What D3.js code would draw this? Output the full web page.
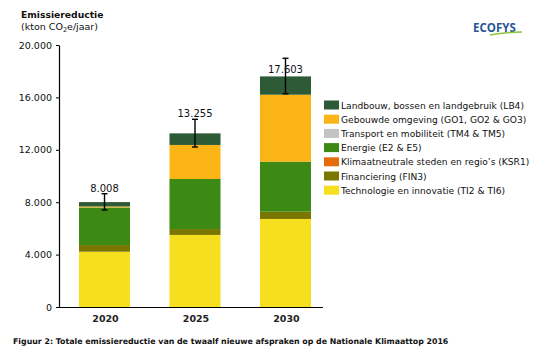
<!DOCTYPE html>
<html><head><meta charset="utf-8">
<script src="https://cdn.jsdelivr.net/npm/d3@7"></script>
<style>
html,body{margin:0;padding:0;background:#fff;}
svg{display:block;font-family:"DejaVu Sans",Verdana,sans-serif;}
</style></head>
<body><svg id="c" width="554" height="357"></svg>
<script>
// ---- data ----
const years = ["2020", "2025", "2030"];
const seriesNames = [
  "Technologie en innovatie (TI2 & TI6)",
  "Financiering (FIN3)",
  "Klimaatneutrale steden en regio\u2019s (KSR1)",
  "Energie (E2 & E5)",
  "Transport en mobiliteit (TM4 & TM5)",
  "Gebouwde omgeving (GO1, GO2 & GO3)",
  "Landbouw, bossen en landgebruik (LB4)"
];
const technologie = [4220, 5500, 6720];
const financiering = [510, 450, 555];
const klimaatneutraal = [0, 0, 0];
const energie = [2865, 3820, 3820];
const transport = [0, 0, 0];
const gebouwd = [80, 2600, 5110];
const landbouw = [333, 885, 1398];
const totals = [8008, 13255, 17603];
const errLow = [7405, 12214, 16282];
const errHigh = [8649, 14328, 18985];
const yTicks = [0, 4000, 8000, 12000, 16000, 20000];
const colors = ["#f5df1f", "#7a7700", "#e46c0a", "#3c8a14", "#c3c3c3", "#fbb416", "#2d5b37"];

const seriesValues = [technologie, financiering, klimaatneutraal, energie, transport, gebouwd, landbouw];
const rows = years.map((y, i) => {
  const r = {year: y};
  seriesNames.forEach((n, k) => r[n] = seriesValues[k][i]);
  return r;
});

const svg = d3.select("#c");
const x = d3.scaleBand().domain(years).range([59, 331]).paddingInner(0.436).paddingOuter(0.221);
const y = d3.scaleLinear().domain([0, 20000]).range([307, 45]);
const fmt = d3.formatLocale({decimal: ",", thousands: ".", grouping: [3], currency: ["", ""]}).format(",d");

// bars
const stack = d3.stack().keys(seriesNames)(rows);
svg.append("g").selectAll("g").data(stack).join("g")
  .attr("fill", (d, i) => colors[i])
  .selectAll("rect").data(d => d).join("rect")
  .attr("x", d => x(d.data.year))
  .attr("width", x.bandwidth())
  .attr("y", d => y(d[1]))
  .attr("height", d => y(d[0]) - y(d[1]));

// y axis
const yAxis = svg.append("g").attr("transform", "translate(59,0)")
  .call(d3.axisLeft(y).tickValues(yTicks).tickFormat(fmt).tickSize(3).tickSizeOuter(0).tickPadding(4));
yAxis.select(".domain").attr("stroke", "#000").attr("stroke-width", 1.2);
yAxis.selectAll("text").attr("font-size", 9.5).attr("fill", "#111").attr("font-family", "DejaVu Sans");
yAxis.selectAll(".tick line").attr("stroke", "#000");

// x axis line
svg.append("line").attr("x1", 59).attr("x2", 323).attr("y1", y(0) + 0.5).attr("y2", y(0) + 0.5)
  .attr("stroke", "#000").attr("stroke-width", 1.2);
svg.append("g").selectAll("text").data(years).join("text")
  .attr("x", d => x(d) + x.bandwidth() / 2 + 1)
  .attr("y", 322)
  .attr("text-anchor", "middle").attr("font-size", 9.5).attr("font-weight", "bold").attr("fill", "#222")
  .text(d => d);

// error bars
const eb = svg.append("g").attr("stroke", "#000").attr("stroke-width", 1.4);
years.forEach((yr, i) => {
  const cx = x(yr) + x.bandwidth() / 2;
  eb.append("line").attr("x1", cx).attr("x2", cx).attr("y1", y(errHigh[i])).attr("y2", y(errLow[i]));
  eb.append("line").attr("x1", cx - 3).attr("x2", cx + 3).attr("y1", y(errHigh[i])).attr("y2", y(errHigh[i]));
  eb.append("line").attr("x1", cx - 3).attr("x2", cx + 3).attr("y1", y(errLow[i])).attr("y2", y(errLow[i]));
});

// total labels
const labelDy = [-10.5, -16.7, -3.7];
svg.append("g").selectAll("text").data(totals).join("text")
  .attr("x", (d, i) => x(years[i]) + x.bandwidth() / 2)
  .attr("y", (d, i) => y(d) + labelDy[i])
  .attr("text-anchor", "middle").attr("font-size", 10).attr("fill", "#111")
  .text(d => fmt(d));

// legend
const legendOrder = seriesNames.map((n, i) => ({n, c: colors[i]})).reverse();
const lg = svg.append("g").selectAll("g").data(legendOrder).join("g")
  .attr("transform", (d, i) => `translate(324,${100.5 + i * 14.2})`);
lg.append("rect").attr("width", 15).attr("height", 9).attr("fill", d => d.c);
lg.append("text").attr("x", 17).attr("y", 8).attr("font-size", 9.1).attr("fill", "#111").text(d => d.n);

// title
svg.append("text").attr("x", 21).attr("y", 18).attr("font-size", 9.2).attr("font-weight", "bold").attr("fill", "#111")
  .text("Emissiereductie");
const sub = svg.append("text").attr("x", 21).attr("y", 30).attr("font-size", 9.5).attr("fill", "#111");
sub.append("tspan").text("(kton CO");
sub.append("tspan").attr("font-size", 6.5).attr("dy", 2).text("2");
sub.append("tspan").attr("dy", -2).text("e/jaar)");

// logo
svg.append("text").attr("x", 473).attr("y", 32).attr("font-size", 11.5).attr("font-weight", "bold")
  .attr("fill", "#2a5597").attr("font-family", "Open Sans, DejaVu Sans").text("ECOFYS");
svg.append("path").attr("d", "M490,35 Q505,32.5 522,32").attr("fill", "none").attr("stroke", "#8cc63f").attr("stroke-width", 1.5);

// caption
svg.append("text").attr("x", 13).attr("y", 344).attr("font-size", 7.85).attr("font-weight", "bold").attr("fill", "#111")
  .text("Figuur 2: Totale emissiereductie van de twaalf nieuwe afspraken op de Nationale Klimaattop 2016");
</script></body></html>
